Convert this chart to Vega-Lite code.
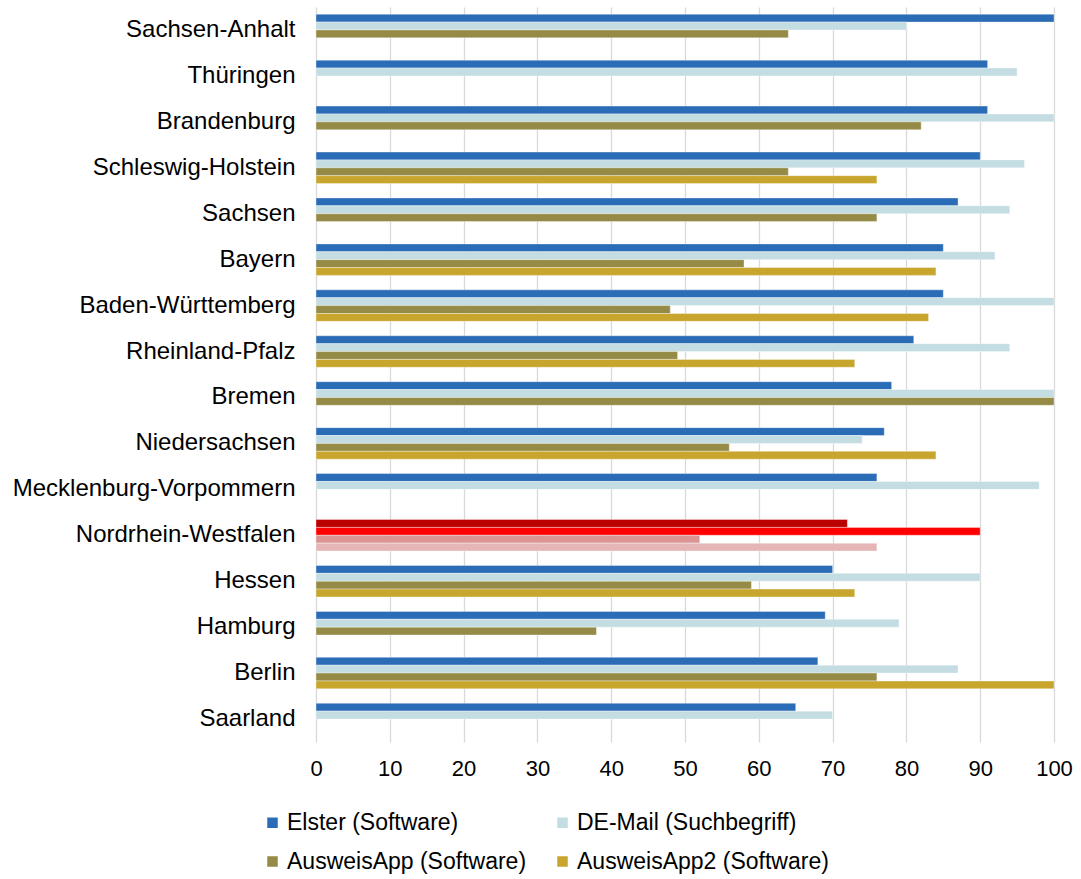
{
  "$schema": "https://vega.github.io/schema/vega-lite/v6.json",
  "autosize": {"type": "none"},
  "padding": {"left": 316, "top": 7, "right": 27, "bottom": 137},
  "width": 738,
  "height": 735,
  "config": {"view": {"stroke": null}, "font": "Liberation Sans"},
  "data": {"values": [
    {"state": "Sachsen-Anhalt", "series": "Elster (Software)", "value": 100},
    {"state": "Sachsen-Anhalt", "series": "DE-Mail (Suchbegriff)", "value": 80},
    {"state": "Sachsen-Anhalt", "series": "AusweisApp (Software)", "value": 64},
    {"state": "Thüringen", "series": "Elster (Software)", "value": 91},
    {"state": "Thüringen", "series": "DE-Mail (Suchbegriff)", "value": 95},
    {"state": "Brandenburg", "series": "Elster (Software)", "value": 91},
    {"state": "Brandenburg", "series": "DE-Mail (Suchbegriff)", "value": 100},
    {"state": "Brandenburg", "series": "AusweisApp (Software)", "value": 82},
    {"state": "Schleswig-Holstein", "series": "Elster (Software)", "value": 90},
    {"state": "Schleswig-Holstein", "series": "DE-Mail (Suchbegriff)", "value": 96},
    {"state": "Schleswig-Holstein", "series": "AusweisApp (Software)", "value": 64},
    {"state": "Schleswig-Holstein", "series": "AusweisApp2 (Software)", "value": 76},
    {"state": "Sachsen", "series": "Elster (Software)", "value": 87},
    {"state": "Sachsen", "series": "DE-Mail (Suchbegriff)", "value": 94},
    {"state": "Sachsen", "series": "AusweisApp (Software)", "value": 76},
    {"state": "Bayern", "series": "Elster (Software)", "value": 85},
    {"state": "Bayern", "series": "DE-Mail (Suchbegriff)", "value": 92},
    {"state": "Bayern", "series": "AusweisApp (Software)", "value": 58},
    {"state": "Bayern", "series": "AusweisApp2 (Software)", "value": 84},
    {"state": "Baden-Württemberg", "series": "Elster (Software)", "value": 85},
    {"state": "Baden-Württemberg", "series": "DE-Mail (Suchbegriff)", "value": 100},
    {"state": "Baden-Württemberg", "series": "AusweisApp (Software)", "value": 48},
    {"state": "Baden-Württemberg", "series": "AusweisApp2 (Software)", "value": 83},
    {"state": "Rheinland-Pfalz", "series": "Elster (Software)", "value": 81},
    {"state": "Rheinland-Pfalz", "series": "DE-Mail (Suchbegriff)", "value": 94},
    {"state": "Rheinland-Pfalz", "series": "AusweisApp (Software)", "value": 49},
    {"state": "Rheinland-Pfalz", "series": "AusweisApp2 (Software)", "value": 73},
    {"state": "Bremen", "series": "Elster (Software)", "value": 78},
    {"state": "Bremen", "series": "DE-Mail (Suchbegriff)", "value": 100},
    {"state": "Bremen", "series": "AusweisApp (Software)", "value": 100},
    {"state": "Niedersachsen", "series": "Elster (Software)", "value": 77},
    {"state": "Niedersachsen", "series": "DE-Mail (Suchbegriff)", "value": 74},
    {"state": "Niedersachsen", "series": "AusweisApp (Software)", "value": 56},
    {"state": "Niedersachsen", "series": "AusweisApp2 (Software)", "value": 84},
    {"state": "Mecklenburg-Vorpommern", "series": "Elster (Software)", "value": 76},
    {"state": "Mecklenburg-Vorpommern", "series": "DE-Mail (Suchbegriff)", "value": 98},
    {"state": "Nordrhein-Westfalen", "series": "Elster (Software)", "value": 72},
    {"state": "Nordrhein-Westfalen", "series": "DE-Mail (Suchbegriff)", "value": 90},
    {"state": "Nordrhein-Westfalen", "series": "AusweisApp (Software)", "value": 52},
    {"state": "Nordrhein-Westfalen", "series": "AusweisApp2 (Software)", "value": 76},
    {"state": "Hessen", "series": "Elster (Software)", "value": 70},
    {"state": "Hessen", "series": "DE-Mail (Suchbegriff)", "value": 90},
    {"state": "Hessen", "series": "AusweisApp (Software)", "value": 59},
    {"state": "Hessen", "series": "AusweisApp2 (Software)", "value": 73},
    {"state": "Hamburg", "series": "Elster (Software)", "value": 69},
    {"state": "Hamburg", "series": "DE-Mail (Suchbegriff)", "value": 79},
    {"state": "Hamburg", "series": "AusweisApp (Software)", "value": 38},
    {"state": "Berlin", "series": "Elster (Software)", "value": 68},
    {"state": "Berlin", "series": "DE-Mail (Suchbegriff)", "value": 87},
    {"state": "Berlin", "series": "AusweisApp (Software)", "value": 76},
    {"state": "Berlin", "series": "AusweisApp2 (Software)", "value": 100},
    {"state": "Saarland", "series": "Elster (Software)", "value": 65},
    {"state": "Saarland", "series": "DE-Mail (Suchbegriff)", "value": 70}
  ]},
  "encoding": {
    "y": {
      "field": "state", "type": "nominal",
      "sort": ["Sachsen-Anhalt", "Thüringen", "Brandenburg", "Schleswig-Holstein", "Sachsen", "Bayern", "Baden-Württemberg", "Rheinland-Pfalz", "Bremen", "Niedersachsen", "Mecklenburg-Vorpommern", "Nordrhein-Westfalen", "Hessen", "Hamburg", "Berlin", "Saarland"],
      "scale": {"paddingInner": 0.314, "paddingOuter": 0.157},
      "axis": {"title": null, "labelFontSize": 24, "labelColor": "#000000", "ticks": false, "domain": false, "labelPadding": 21, "labelLimit": 400}
    },
    "yOffset": {
      "field": "series", "type": "nominal",
      "scale": {"domain": ["Elster (Software)", "DE-Mail (Suchbegriff)", "AusweisApp (Software)", "AusweisApp2 (Software)"], "paddingInner": 0, "paddingOuter": 0}
    },
    "x": {
      "field": "value", "type": "quantitative",
      "scale": {"domain": [0, 100], "nice": false},
      "axis": {"title": null, "values": [0, 10, 20, 30, 40, 50, 60, 70, 80, 90, 100], "grid": true, "gridColor": "#D9D9D9", "gridWidth": 1.3, "domain": false, "ticks": false, "labelFontSize": 22, "labelColor": "#000000", "labelPadding": 16, "labelFlush": false, "labelOverlap": false}
    }
  },
  "layer": [
    {
      "transform": [{"filter": "datum.state !== 'Nordrhein-Westfalen'"}],
      "mark": {"type": "bar", "stroke": "white", "strokeWidth": 0.6, "strokeOpacity": 0.6},
      "encoding": {
        "color": {
          "field": "series", "type": "nominal",
          "scale": {"domain": ["Elster (Software)", "DE-Mail (Suchbegriff)", "AusweisApp (Software)", "AusweisApp2 (Software)"], "range": ["#2B6CB7", "#C3DDE2", "#958B47", "#C8A62E"]},
          "legend": {"title": null, "orient": "none", "legendX": -55, "legendY": 804, "direction": "horizontal", "columns": 2, "symbolType": "square", "symbolSize": 110, "symbolStrokeWidth": 0, "labelFontSize": 23, "labelColor": "#000000", "labelOffset": 3, "columnPadding": 24, "rowPadding": 15, "padding": 0, "labelLimit": 400}
        }
      }
    },
    {
      "transform": [{"filter": "datum.state === 'Nordrhein-Westfalen'"}],
      "mark": {"type": "bar", "stroke": "white", "strokeWidth": 0.6, "strokeOpacity": 0.6},
      "encoding": {
        "color": {
          "field": "series", "type": "nominal",
          "scale": {"domain": ["Elster (Software)", "DE-Mail (Suchbegriff)", "AusweisApp (Software)", "AusweisApp2 (Software)"], "range": ["#BB0000", "#FF0000", "#DB9494", "#E6B6B6"]},
          "legend": null
        }
      }
    }
  ],
  "resolve": {"scale": {"color": "independent"}}
}
